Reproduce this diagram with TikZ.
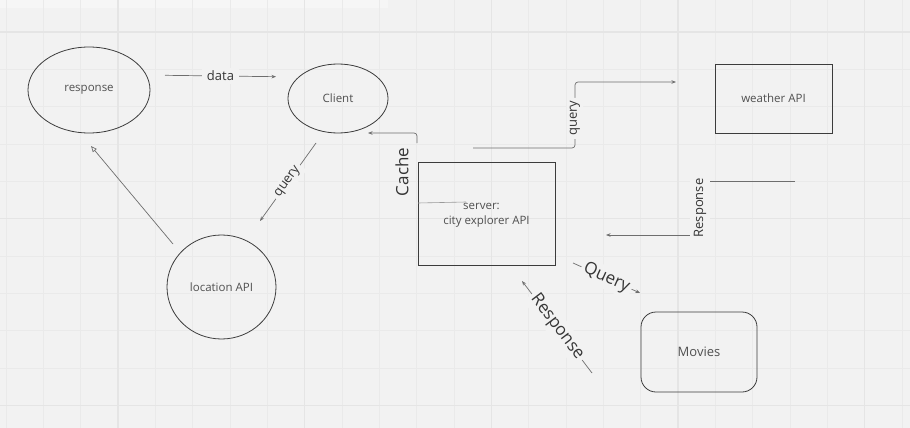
\documentclass[tikz,border=0pt]{standalone}
\usepackage{fontspec}
\setmainfont{Open Sans}
\usetikzlibrary{arrows.meta,shapes.geometric}
\definecolor{bg}{HTML}{F2F2F2}
\definecolor{bgtop}{HTML}{F6F6F6}
\definecolor{gridminor}{HTML}{EAEAEA}
\definecolor{gridmajor}{HTML}{E5E5E5}
\definecolor{outl}{HTML}{3C3C3C}
\definecolor{connc}{HTML}{6E6E6E}
\definecolor{txt}{HTML}{505050}
\definecolor{ltxt}{HTML}{353535}
\definecolor{faint}{HTML}{9A9A9A}
\begin{document}
\begin{tikzpicture}[x=1pt,y=-1pt,
  shapeline/.style={draw=outl, line width=0.8pt, inner sep=0pt},
  nodetext/.style={font=\fontsize{11.5}{14}\selectfont, text=txt},
  conn/.style={draw=connc, line width=0.7pt},
  arr/.style={-{Stealth[length=4.5pt,width=3.5pt]}},
  openarr/.style={-{Triangle[open,length=6pt,width=5pt]}},
  lbl/.style={fill=bg, font=\fontsize{13}{15}\selectfont, text=ltxt, inner sep=3pt},
  biglbl/.style={fill=bg, font=\fontsize{17}{19}\selectfont, text=ltxt, inner sep=3pt}
]
\useasboundingbox (0,0) rectangle (910,428);
% background and grid
\begin{scope}
\clip (0,0) rectangle (910,428);
\fill[bg] (0,0) rectangle (910,428);
\fill[bgtop] (0,0) rectangle (388,8);
\foreach \k in {0,...,24} {
  \pgfmathsetmacro{\gx}{6+37.3333*\k}
  \draw[gridminor, line width=0.6pt] (\gx,0) -- (\gx,428);
}
\foreach \k in {-1,...,10} {
  \pgfmathsetmacro{\gy}{32+37.3333*\k}
  \draw[gridminor, line width=0.6pt] (0,\gy) -- (910,\gy);
}
\foreach \gx in {118,304.67,491.33,678,864.67}
  \draw[gridmajor, line width=1.2pt] (\gx,0) -- (\gx,428);
\foreach \gy in {32,218.67,405.33}
  \draw[gridmajor, line width=1.2pt] (0,\gy) -- (910,\gy);
\end{scope}

% nodes
\node[shapeline, ellipse, minimum width=122pt, minimum height=86pt, nodetext] (resp) at (89,90) {response};
\node[shapeline, ellipse, minimum width=100pt, minimum height=69pt, nodetext] (client) at (338,98.5) {Client};
\node[shapeline, ellipse, minimum width=109pt, minimum height=104pt, nodetext] (loc) at (221.5,287) {location API};
\node[shapeline, rectangle, minimum width=137pt, minimum height=103pt] (server) at (486.5,213.5) {};
\node[nodetext, inner sep=0pt] (srvA) at (481.5,206) {server:};
\node[nodetext, inner sep=0pt] (srvB) at (486.5,221.5) {city explorer API};
\node[shapeline, rectangle, minimum width=117pt, minimum height=69pt, nodetext] (weather) at (773.5,98.5) {weather API};
\node[shapeline, rectangle, rounded corners=15pt, minimum width=116pt, minimum height=80pt, nodetext, font=\fontsize{13}{15}\selectfont] (movies) at (699,352) {Movies};
\node[biglbl, fill=none, rotate=90, inner sep=0pt] (cache) at (402,172) {Cache};

% connector end points
\coordinate (d1) at (165,75.3);
\coordinate (d2) at (276,76.7);
\coordinate (c1) at (417,143);
\coordinate (c2) at (368,133);
\coordinate (q1) at (316,143);
\coordinate (q2) at (260,221);
\coordinate (l1) at (173,244);
\coordinate (r1) at (91,146);
\coordinate (w1) at (473,148);
\coordinate (w2) at (676,82);
\coordinate (e1) at (795,181);
\coordinate (e2) at (606,235);
\coordinate (m1) at (573,263);
\coordinate (m2) at (640,293);
\coordinate (n1) at (592,373);
\coordinate (n2) at (522,281);
\coordinate (s1) at (418,203);
\coordinate (s2) at (466,202);

% connectors
\draw[conn, arr] (d1) -- node[lbl, inner xsep=5pt] {data} (d2);
\draw[conn, arr, rounded corners=3pt] (c1) -- (c1 |- c2) -- (c2);
\draw[conn, arr] (q1) -- node[lbl, sloped] {query} (q2);
\draw[conn, openarr] (l1) -- (r1);
\draw[conn, arr, rounded corners=3pt] (w1) -- (575,148) -- node[lbl, rotate=90, pos=0.45] {query} (575,82) -- (w2);
\draw[conn, arr] (e1) -- (700,181) -- node[lbl, rotate=90, inner ysep=4pt] {Response} (700,235) -- (e2);
\draw[conn, arr] (m1) -- node[biglbl, sloped] {Query} (m2);
\draw[conn, arr] (n1) -- node[biglbl, sloped] {Response} (n2);
\draw[faint, line width=0.6pt] (s1) -- (s2);
\end{tikzpicture}
\end{document}
